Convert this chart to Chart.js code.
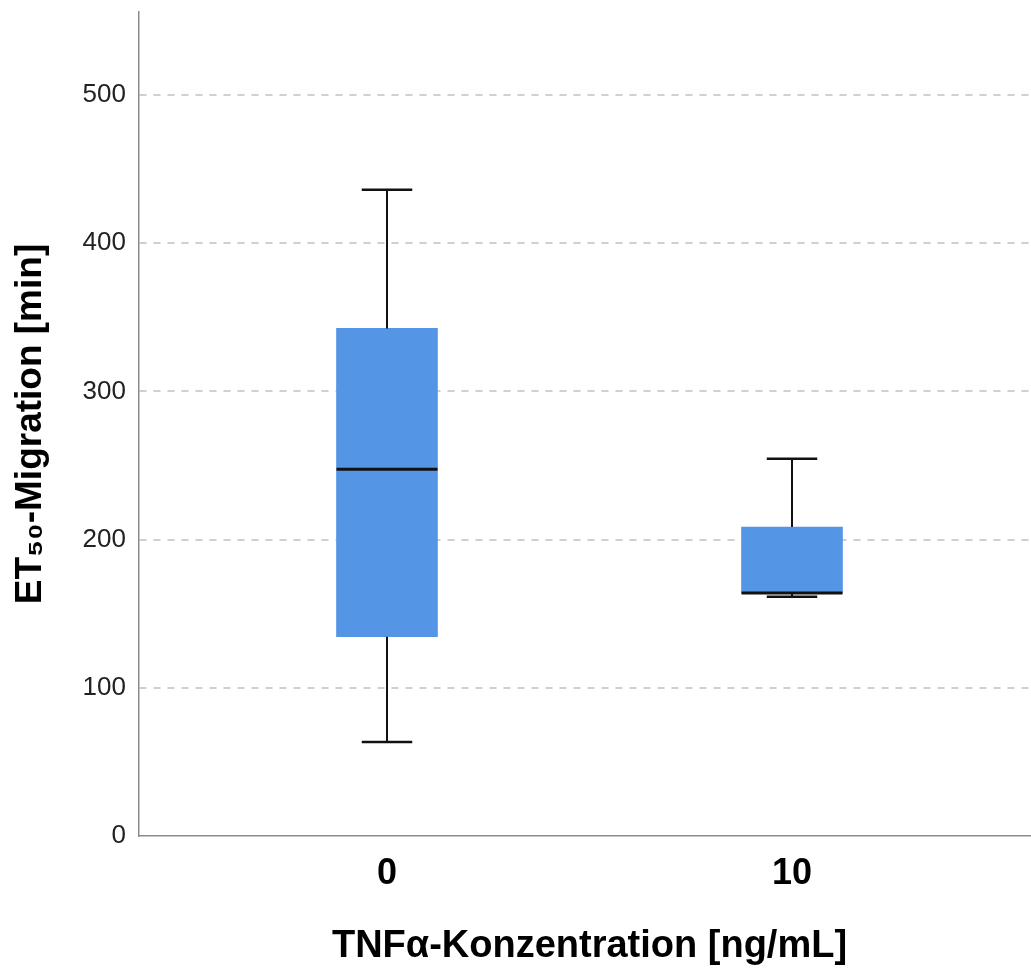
<!DOCTYPE html>
<html>
<head>
<meta charset="utf-8">
<script src="https://cdn.jsdelivr.net/npm/chart.js@4.4.1/dist/chart.umd.min.js"></script>
<style>
  html, body { margin: 0; padding: 0; background: #fff; overflow: hidden; }
  #wrap { width: 1031px; height: 970px; overflow: hidden; }
</style>
</head>
<body>
<div id="wrap"><canvas id="chart" width="1040" height="970"></canvas></div>
<script>
// Werte
const groups = ['0', '10'];
const groupPositions = [0, 1];
const whiskerLow = [63.5, 161.5];
const quartile1 = [134.5, 164];
const medians = [247.5, 164];
const quartile3 = [342.5, 208.5];
const whiskerHigh = [436, 254.5];
const yTicks = [0, 100, 200, 300, 400, 500];

const FONT = "'Liberation Sans', Arial, sans-serif";

const boxData = groupPositions.map((x, i) => ({ x: x, y: [quartile1[i], quartile3[i]] }));

// Whisker und Median über die Skalen zeichnen
const whiskerPlugin = {
  id: 'whiskers',
  afterDatasetsDraw(chart) {
    const ctx = chart.ctx;
    const xScale = chart.scales.x;
    const yScale = chart.scales.y;
    const meta = chart.getDatasetMeta(0);
    ctx.save();
    ctx.strokeStyle = '#111';
    groupPositions.forEach((pos, i) => {
      const x = Math.round(xScale.getPixelForValue(pos));
      const half = meta.data[i].width / 2;
      const capHalf = half / 2;
      const yLow = yScale.getPixelForValue(whiskerLow[i]);
      const yQ1 = yScale.getPixelForValue(quartile1[i]);
      const yQ3 = yScale.getPixelForValue(quartile3[i]);
      const yHigh = yScale.getPixelForValue(whiskerHigh[i]);
      const yMed = yScale.getPixelForValue(medians[i]);

      ctx.lineWidth = 2;
      ctx.beginPath();
      ctx.moveTo(x, yQ3); ctx.lineTo(x, yHigh);
      ctx.moveTo(x, yQ1); ctx.lineTo(x, yLow);
      ctx.stroke();

      ctx.lineWidth = 2.5;
      ctx.beginPath();
      ctx.moveTo(x - capHalf, yHigh); ctx.lineTo(x + capHalf, yHigh);
      ctx.moveTo(x - capHalf, yLow); ctx.lineTo(x + capHalf, yLow);
      ctx.stroke();

      ctx.lineWidth = 3;
      ctx.beginPath();
      ctx.moveTo(x - half, yMed); ctx.lineTo(x + half, yMed);
      ctx.stroke();
    });
    ctx.restore();
  }
};

new Chart(document.getElementById('chart'), {
  type: 'bar',
  data: {
    datasets: [{
      data: boxData,
      backgroundColor: '#5595E5',
      borderWidth: 0,
      barThickness: 101
    }]
  },
  options: {
    responsive: false,
    animation: false,
    layout: { padding: { top: 12, left: 0, right: 0, bottom: 0 } },
    plugins: {
      legend: { display: false },
      tooltip: { enabled: false }
    },
    scales: {
      x: {
        type: 'linear',
        offset: false,
        min: -0.6123,
        max: 1.6123,
        afterBuildTicks: (axis) => { axis.ticks = groupPositions.map(v => ({ value: v })); },
        afterFit: (axis) => { axis.height = 134; axis.paddingLeft = 0; axis.paddingRight = 0; },
        grid: { display: false, drawTicks: false, offset: false },
        border: { display: true, color: '#8c8c8c', width: 1.5 },
        ticks: {
          padding: 16,
          color: '#000',
          font: { family: FONT, size: 36, weight: 'bold' },
          callback: (value) => groups[groupPositions.indexOf(value)]
        },
        title: {
          display: true,
          text: 'TNFα-Konzentration [ng/mL]',
          color: '#000',
          font: { family: FONT, size: 38, weight: 'bold' },
          padding: { top: 0, bottom: 1 }
        }
      },
      y: {
        min: 0,
        max: 556,
        afterBuildTicks: (axis) => { axis.ticks = yTicks.map(v => ({ value: v })); },
        afterFit: (axis) => { axis.width = 139; axis.paddingTop = 0; axis.paddingBottom = 0; },
        grid: {
          drawTicks: false,
          lineWidth: 2,
          color: (ctx) => ctx.tick && ctx.tick.value === 0 ? 'rgba(0,0,0,0)' : '#d0d0d0'
        },
        border: { display: true, color: '#8c8c8c', width: 1.5, dash: [7, 7] },
        ticks: {
          padding: 13,
          color: '#222',
          font: { family: FONT, size: 26 }
        },
        title: {
          display: true,
          text: 'ET₅₀-Migration [min]',
          color: '#000',
          font: { family: FONT, size: 37, weight: 'bold' },
          padding: { top: 9, bottom: 0 }
        }
      }
    }
  },
  plugins: [whiskerPlugin]
});
</script>
</body>
</html>
